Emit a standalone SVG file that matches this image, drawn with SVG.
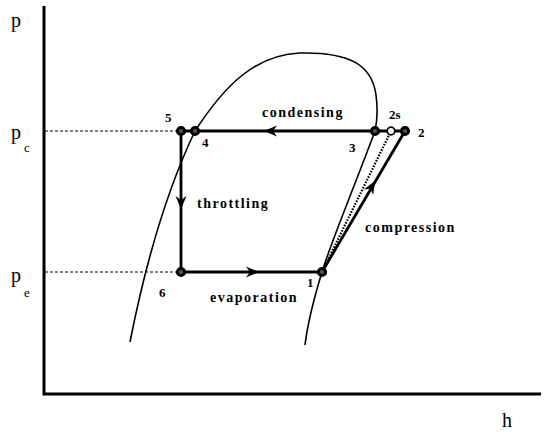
<svg xmlns="http://www.w3.org/2000/svg" width="545" height="432" viewBox="0 0 545 432">
<style>
.ax{stroke:#000;stroke-width:3;fill:none}
.dash{stroke:#000;stroke-width:1;stroke-dasharray:3,2;fill:none}
.sat{stroke:#000;stroke-width:1.6;fill:none}
.cyc{stroke:#000;stroke-width:2.8;fill:none}
.dot{stroke:#000;stroke-width:2.2;stroke-dasharray:1.6,1.4;fill:none}
.pt{stroke:#000;stroke-width:3;fill:#555}
.ptw{stroke:#000;stroke-width:1.8;fill:#fff}
.lbl{font-family:"Liberation Serif",serif;font-weight:bold;font-size:14px;letter-spacing:1.5px;fill:#000}
.num{font-family:"Liberation Serif",serif;font-weight:bold;font-size:13px;fill:#000}
.axl{font-family:"Liberation Serif",serif;font-size:20px;fill:#000}
.sub{font-family:"Liberation Serif",serif;font-size:13px;fill:#000}
</style>
<defs>
<path id="ah" d="M0,0 L-13,-5.5 L-9,0 L-13,5.5 Z" fill="#000"/>
</defs>
<g id="axes">
<path class="ax" d="M44,6 V394 H541"/>
<text class="axl" x="11" y="27">p</text>
<text class="axl" x="11" y="139">p</text><text class="sub" x="24" y="152">c</text>
<text class="axl" x="11" y="282">p</text><text class="sub" x="24" y="297">e</text>
<text class="axl" x="502" y="427">h</text>
</g>
<g id="saturation-dome">
<path class="sat" d="M195,131 C225,85 255,55 300,53 C350,52 372,65 376,95 C378,110 377,122 375,131"/>
<path class="sat" d="M195,131 Q155,215 130,342"/>
<path class="sat" d="M375,131 C355,185 330,245 322,272 C315,295 308,320 305,345"/>
</g>
<g id="connectors">
<path class="dash" d="M45,131 H181"/>
<path class="dash" d="M45,272 H181"/>
<path class="cyc" d="M181,131 H405"/>
<path class="cyc" d="M181,131 V272 H322"/>
<path class="cyc" d="M322,272 L405,131"/>
<path class="dot" d="M322,272 L391,131"/>
<use href="#ah" transform="translate(264,131) rotate(180)"/>
<use href="#ah" transform="translate(181,209) rotate(90)"/>
<use href="#ah" transform="translate(259,272)"/>
<use href="#ah" transform="translate(375,181) rotate(-59.5)"/>
</g>
<g id="node-5"><circle class="pt" cx="181" cy="131" r="3.6"/><text class="num" x="165" y="122">5</text></g>
<g id="node-4"><circle class="pt" cx="195" cy="131" r="3.6"/><text class="num" x="202" y="147">4</text></g>
<g id="node-3"><circle class="pt" cx="375" cy="131" r="3.6"/><text class="num" x="349" y="152">3</text></g>
<g id="node-2s"><circle class="ptw" cx="391" cy="131" r="3.8"/><text class="num" x="389" y="119">2s</text></g>
<g id="node-2"><circle class="pt" cx="405" cy="131" r="3.6"/><text class="num" x="418" y="137">2</text></g>
<g id="node-1"><circle class="pt" cx="322" cy="272" r="3.6"/><text class="num" x="307" y="287">1</text></g>
<g id="node-6"><circle class="pt" cx="181" cy="272" r="3.6"/><text class="num" x="159" y="297">6</text></g>
<g id="labels">
<text class="lbl" x="262" y="117">condensing</text>
<text class="lbl" x="197" y="208">throttling</text>
<text class="lbl" x="210" y="302">evaporation</text>
<text class="lbl" x="365" y="232">compression</text>
</g>
</svg>
